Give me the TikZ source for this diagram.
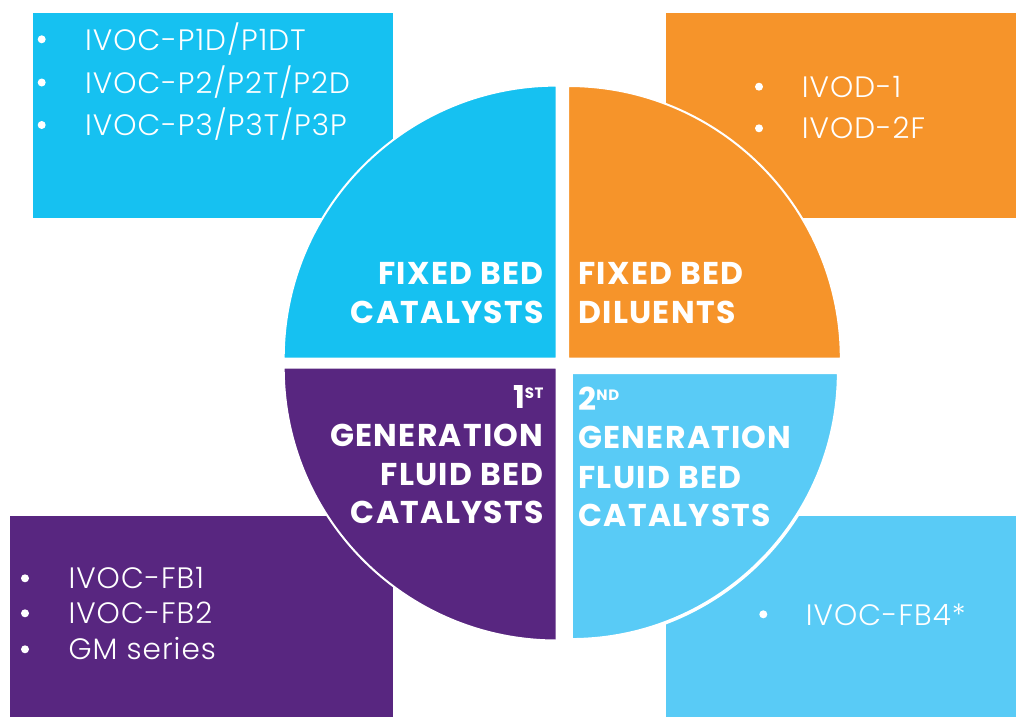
\documentclass[tikz,border=0pt]{standalone}
\usepackage{fontspec}
\setmainfont{Poppins}
\newfontfamily\itemfont{Poppins Light}[LetterSpace=3.5]
\newfontfamily\headfont{Poppins}[LetterSpace=4]
\usepackage{xcolor}
\definecolor{fbc}{RGB}{22, 193, 241}
\definecolor{fbd}{RGB}{246, 148, 42}
\definecolor{gen1}{RGB}{88, 38, 128}
\definecolor{gen2}{RGB}{89, 203, 246}

\begin{document}
\begin{tikzpicture}[x=1pt, y=-1pt,
    head/.style={text=white, inner sep=0pt, font=\fontsize{31.5}{38}\selectfont\headfont\bfseries},
    item/.style={text=white, inner sep=0pt, anchor=base west, font=\fontsize{29.5}{36}\selectfont\itemfont},
    quad/.style={draw=white, line width=2pt}]
            \useasboundingbox (0,0) rectangle (1016,717);
            % boxes behind the circle
            \fill[fbc] (33,13) rectangle (393,217.5);
            \fill[fbd] (666,13) rectangle (1016,217.5);
            \fill[gen1] (10,516) rectangle (393,717);
            \fill[gen2] (666,516) rectangle (1016,717);
            % quarters of the circle
            \filldraw[fbc, quad] (283.7,358.6) arc[start angle=180, end angle=270, radius=273] -- (556.7,358.6) -- cycle;
            \filldraw[fbd, quad] (568.2,86) arc[start angle=270, end angle=360, radius=272.6] -- (568.2,358.6) -- cycle;
            \filldraw[gen1, quad] (556.7,640.5) arc[start angle=90, end angle=180, radius=273] -- (556.7,367.5) -- cycle;
            \filldraw[gen2, quad, line width=3.5pt] (838.6,372.3) arc[start angle=0, end angle=90, radius=267.5] -- (571.1,372.3) -- cycle;
            % headings
            \node[head, anchor=base east] (fbc1) at (543.8,284.6) {FIXED BED};
            \node[head, anchor=base east] (fbc2) at (543.8,323) {CATALYSTS};
            \node[head, anchor=base west] (fbd1) at (578.2,284.6) {FIXED BED};
            \node[head, anchor=base west] (fbd2) at (578.2,323) {DILUENTS};
            \node[head, anchor=base east] (gen1a) at (543.8,408) {1\raisebox{10pt}{\fontsize{15}{18}\selectfont ST}};
            \node[head, anchor=base east] (gen1b) at (543.8,446) {GENERATION};
            \node[head, anchor=base east] (gen1c) at (543.8,485) {FLUID BED};
            \node[head, anchor=base east] (gen1d) at (543.8,523) {CATALYSTS};
            \node[head, anchor=base west] (gen2a) at (578.2,410) {2\raisebox{10pt}{\fontsize{15}{18}\selectfont ND}};
            \node[head, anchor=base west] (gen2b) at (578.2,448.8) {GENERATION};
            \node[head, anchor=base west] (gen2c) at (578.2,488) {FLUID BED};
            \node[head, anchor=base west] (gen2d) at (578.2,526) {CATALYSTS};
            % lists
            \fill[white] (41.7,39.3) circle (4);
            \fill[white] (41.7,82.5) circle (4);
            \fill[white] (41.7,125) circle (4);
            \node[item] (p1) at (85,50.7) {IVOC-P1D/P1DT};
            \node[item] (p2) at (85,93.3) {IVOC-P2/P2T/P2D};
            \node[item] (p3) at (85,135.7) {IVOC-P3/P3T/P3P};
            \fill[white] (759,86.7) circle (4);
            \fill[white] (759,128.3) circle (4);
            \node[item] (d1) at (801.7,97.3) {IVOD-1};
            \node[item] (d2) at (801.7,138.3) {IVOD-2F};
            \fill[white] (25,578.3) circle (4);
            \fill[white] (25,613.3) circle (4);
            \fill[white] (25,649.3) circle (4);
            \node[item] (fb1) at (68.3,588.3) {IVOC-FB1};
            \node[item] (fb2) at (68.3,623) {IVOC-FB2};
            \node[item] (gm) at (68.3,659) {GM series};
            \fill[white] (763.3,614.3) circle (4);
            \node[item] (fb4) at (805.7,625) {IVOC-FB4*};
        \end{tikzpicture}
\end{document}
